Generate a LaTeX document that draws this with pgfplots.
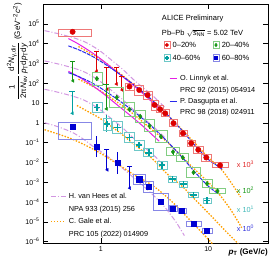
\documentclass[border=0pt]{standalone}
\usepackage{amsmath}
\usepackage{fontspec}
\setmainfont{Liberation Sans}
\newfontfamily\monof{Liberation Mono}
\usepackage{pgfplots}
\usepackage{pgfplotstable}
\pgfplotsset{compat=1.18}

\definecolor{redm}{RGB}{220,0,0}
\definecolor{redbox}{RGB}{238,120,120}
\definecolor{greenm}{RGB}{20,150,20}
\definecolor{greenbox}{RGB}{130,205,130}
\definecolor{tealm}{RGB}{0,160,160}
\definecolor{tealbox}{RGB}{110,200,200}
\definecolor{bluem}{RGB}{0,0,210}
\definecolor{bluebox}{RGB}{135,135,230}
\definecolor{linnyk}{RGB}{230,30,230}
\definecolor{dasgupta}{RGB}{40,40,235}
\definecolor{vanhees}{RGB}{210,150,225}
\definecolor{gale}{RGB}{255,160,0}

\newcommand\ft{\fontsize{7.3}{8.5}\selectfont}
\def\logticklabel{\pgfmathparse{round(\tick)}\pgfmathtruncatemacro\ex{\pgfmathresult}\ifnum\ex=0 1\else\ifnum\ex=1 10\else 10\textsuperscript{\ifnum\ex<0 −\number-\ex\else\ex\fi}\fi\fi}

\pgfdeclareplotmark{sysbox}{\pgfpathrectanglecorners{\pgfpoint{-\bw pt}{-\bh pt}}{\pgfpoint{\bw pt}{\bh pt}}\pgfusepathqstroke}

\pgfplotsset{
 sysb/.style={only marks, mark=sysbox, line width=0.7pt, forget plot,
   visualization depends on={\thisrow{w}\as\bw},
   visualization depends on={\thisrow{h}\as\bh}},
 pts/.style={only marks, forget plot, error bars/y dir=both, error bars/y explicit,
   error bars/error mark=none, error bars/error bar style={line width=0.8pt}},
 ul/.style={only marks, mark=-, mark size=2.6pt, line width=0.8pt, forget plot,
   error bars/y dir=minus, error bars/y explicit, error bars/error mark=triangle*,
   error bars/error bar style={line width=0.8pt},
   error bars/error mark options={rotate=180, mark size=1.7pt, line width=0.4pt}},
 th/.style={no markers, smooth, line width=1pt, forget plot},
}

% ---------------- data (values as displayed, already scaled) -------------
\pgfplotstableread{
x y ep em
0.547 3.9e4 6e3 5e3
1.85 67 10 10
2.28 45 8 8
2.73 25 5 5
3.17 7.9 1.5 1.5
3.57 4.8 0.8 0.8
3.98 3.0 0.5 0.5
4.75 0.94 0.15 0.15
5.82 0.295 0.05 0.05
6.94 0.092 0.015 0.015
8.08 0.043 0.008 0.008
9.6 0.0175 0.004 0.004
12.9 0.0071 0.0015 0.0015
}\redpts
\pgfplotstableread{
x y w h
0.58 3.5e4 16.5 3.5
1.85 67 4.5 3.5
2.28 45 4.5 5
2.73 25 4.5 4
3.17 7.9 3.5 5
3.57 4.8 3.5 3.5
3.98 3.0 4 3.5
4.75 0.94 4 3.5
5.82 0.295 4 3
6.94 0.092 4 3.3
8.08 0.043 5 3.3
9.6 0.0175 5 3.3
12.9 0.0071 8 2.5
}\redsys
\pgfplotstableread{
x y em
0.908 4200 3800
1.14 610 560
1.39 610 520
1.57 215 170
}\redul

\pgfplotstableread{
x y ep em
0.92 170 40 35
1.41 19 6 5
1.85 4.8 1 1
2.33 2.1 0.5 0.5
2.85 0.7 0.2 0.2
3.63 0.2 0.05 0.05
4.7 0.034 0.01 0.01
5.8 0.0175 0.004 0.004
7.3 0.0031 0.0008 0.0008
9.75 8.5e-4 2e-4 2e-4
12.2 3.6e-4 1e-4 1e-4
}\greenpts
\pgfplotstableread{
x y w h
0.92 170 5 6.7
1.41 19 7 10
1.85 4.8 5 6.7
2.33 2.1 5 6
2.85 0.7 5 6
3.63 0.2 6 6
4.7 0.034 6.7 4
5.8 0.0175 6 4
7.3 0.0031 6.7 5
9.75 8.5e-4 5 4
12.2 3.6e-4 8 2.5
}\greensys
\pgfplotstableread{
x y em
0.547 1300 1170
1.12 88 83
}\greenul

\pgfplotstableread{
x y ep em
0.92 5.9 1.5 1.2
1.14 0.84 1.5 0.5
1.43 0.57 0.15 0.12
1.85 0.18 0.04 0.04
2.28 0.073 0.015 0.015
2.79 0.031 0.007 0.007
3.71 0.0071 0.0015 0.0015
4.66 0.0014 0.0004 0.0004
5.9 7.9e-4 1.5e-4 1.5e-4
7.3 2.2e-4 5e-5 5e-5
9.75 1.2e-4 3e-5 3e-5
}\tealpts
\pgfplotstableread{
x y w h
0.92 5.9 5 5
1.14 0.84 4 6
1.43 0.57 5 6
1.85 0.18 5 5
2.28 0.073 5 5
2.79 0.031 5 4
3.71 0.0071 5 4
4.66 0.0014 4 3.3
5.9 7.9e-4 4 3.3
7.3 2.2e-4 5 2.5
9.75 1.2e-4 4 2.5
}\tealsys
\pgfplotstableread{
x y em
0.54 40 37
}\tealul

\pgfplotstableread{
x y ep em
0.547 0.61 0.1 0.1
0.92 0.063 0.147 0.045
1.43 0.0098 0.022 0.0073
2.28 0.0014 0.0003 0.0003
2.79 5.7e-4 1e-4 1e-4
3.63 1.05e-4 3e-5 3e-5
4.7 4.6e-5 8e-6 8e-6
5.7 3.5e-5 6e-6 6e-6
7.3 8.3e-6 2e-6 2e-6
9.75 3.4e-6 8e-7 8e-7
}\bluepts
\pgfplotstableread{
x y w h
0.58 0.39 16.5 8.3
2.28 0.0014 5.8 5.3
2.79 5.7e-4 5 5.8
3.63 1.05e-4 7.5 8.3
4.7 4.6e-5 4 3
5.7 3.5e-5 4 2.3
7.3 8.3e-6 7.5 2.5
9.75 3.4e-6 5 2.5
}\bluesys
\pgfplotstableread{
x y em
1.14 0.046 0.0418
1.85 0.0061 0.0056
}\blueul

% ---------------- model curves -------------
\pgfplotstableread{
x y
0.3 4.47e4
0.4 3.16e4
0.55 2.0e4
0.7 1.26e4
0.85 7.08e3
1.0 3.98e3
1.3 1.26e3
1.6 501
2.0 158
2.5 56.2
3.0 25.1
3.5 11.2
4.0 5.62
}\vhred
\pgfplotstableread{
x y
0.3 1.32e3
0.4 933
0.55 589
0.7 372
0.85 209
1.0 117
1.3 37.2
1.6 14.8
2.0 4.68
2.5 1.66
3.0 0.741
3.5 0.331
4.0 0.166
}\vhgreen
\pgfplotstableread{
x y
0.3 49
0.4 34.7
0.55 21.9
0.7 13.8
0.85 7.76
1.0 4.37
1.3 1.38
1.6 0.55
2.0 0.174
2.5 0.0617
3.0 0.0275
3.5 0.0123
4.0 6.17e-3
}\vhteal
\pgfplotstableread{
x y
0.3 1.0
0.4 0.631
0.55 0.316
0.7 0.141
0.85 0.0631
1.0 0.0355
1.3 0.0126
1.6 5.01e-3
2.0 1.78e-3
2.5 6.31e-4
3.0 2.51e-4
3.5 1.12e-4
4.0 5.01e-5
5.0 1.0e-5
6.0 2.0e-6
}\vhblue
\pgfplotstableread{
x y
0.5 1.78e4
0.6 1.05e4
0.7 6.3e3
0.85 3.16e3
1.0 1.66e3
1.25 631
1.5 282
2.0 79.4
2.5 28.2
3.0 11.2
3.5 5.25
}\lired
\pgfplotstableread{
x y
0.5 398
0.6 234
0.7 141
0.85 70.8
1.0 37.2
1.25 14.1
1.5 6.31
2.0 1.78
2.5 0.631
3.0 0.251
3.5 0.117
}\ligreen
\pgfplotstableread{
x y
0.5 7.59e3
0.6 5.25e3
0.7 3.63e3
0.85 2.14e3
1.0 1.26e3
1.25 562
1.5 282
2.0 89.1
2.5 33.1
3.0 14.1
4.0 3.16
5.0 0.891
6.0 0.302
7.0 0.112
8.0 0.0501
10 0.0141
12 0.00708
13.5 0.00447
}\dared
\pgfplotstableread{
x y
0.5 339
0.6 234
0.7 162
0.85 95.5
1.0 56.2
1.25 25.1
1.5 12.6
2.0 3.98
2.5 1.48
3.0 0.631
4.0 0.141
5.0 0.0398
6.0 0.0135
7.0 5.01e-3
8.0 2.24e-3
10 6.31e-4
12.5 2.51e-4
}\dagreen
\pgfplotstableread{
x y
0.62 7.08e3
0.8 3.16e3
1.0 1.58e3
1.5 316
2.0 89.1
3.0 12.6
4.0 3.16
5.0 0.955
7.0 0.141
10 0.0178
13 5.01e-3
16 1.12e-3
20 1.78e-4
}\gared
\pgfplotstableread{
x y
0.62 158
0.8 79.4
1.0 39.8
1.5 8.91
2.0 2.82
3.0 0.447
4.0 0.126
5.0 0.0398
7.0 6.31e-3
10 1.0e-3
12 3.55e-4
16 4.47e-5
20.5 5.01e-6
}\gagreen
\pgfplotstableread{
x y
0.6 7.41
0.8 3.16
1.0 1.58
1.5 0.316
2.0 0.0891
3.0 0.0158
4.0 3.16e-3
5.0 1.12e-3
5.9 5.37e-4
7.0 2.0e-4
10 2.82e-5
13 6.31e-6
16 2.0e-6
19 7.94e-7
}\gateal
\pgfplotstableread{
x y
0.3 0.447
0.5 0.178
0.7 0.0794
1.0 0.0282
1.5 7.08e-3
2.0 2.51e-3
3.0 7.08e-4
4.43 1.26e-4
7.0 1.0e-5
10.8 8.5e-7
11.5 6e-7
}\gablue

\begin{document}
\begin{tikzpicture}
\path[use as bounding box] (-43pt,-24pt) rectangle (232pt,243pt);
\begin{axis}[
  at={(0pt,0pt)}, anchor=south west,
  scale only axis, width=225pt, height=239pt,
  xmode=log, ymode=log, log basis x=10, log basis y=10,
  xmin=0.29, xmax=36, ymin=8.5e-7, ymax=9.9e5,
  xtick={1,10},
  ytick={1e-6,1e-5,1e-4,1e-3,1e-2,1e-1,1,10,100,1e3,1e4,1e5},
  xticklabel={\logticklabel}, yticklabel={\logticklabel},
  tick label style={font=\fontsize{7}{8}\selectfont},
  major tick length=5pt, minor tick length=2.5pt,
  tick style={black, line width=0.4pt},
  axis line style={line width=0.5pt},
  xlabel={\textbf{\textit{p}\textsubscript{T} (GeV/\textit{c})}},
  xlabel style={at={(axis description cs:1,-0.022)}, anchor=north east, font=\fontsize{8}{9}\selectfont, inner sep=0pt},
  ylabel={$\dfrac{\mbox{1}}{\mbox{2π\textit{N}\textsubscript{ev}}}\dfrac{\mbox{d\textsuperscript{2}\textit{N}\textsubscript{γ,dir}}}{\mbox{\textit{p}\textsubscript{T}d\textit{p}\textsubscript{T}d\textit{y}}}$ (GeV\textsuperscript{−2}\textit{c}\textsuperscript{2})},
  ylabel style={at={(axis description cs:-0.0667,1.004)}, anchor=south east, font=\fontsize{8}{9}\selectfont, inner sep=0pt},
  legend columns=2,
  legend cell align=left,
  legend style={at={(axis description cs:0.535,0.847)}, anchor=north west, draw=none, fill=none,
    font=\fontsize{7.5}{8.5}\selectfont, inner sep=0pt,
    nodes={inner sep=0.5pt, text height=6pt, text depth=1.5pt},
    row sep=4.5pt, column sep=2pt,
    /tikz/column 2/.style={column sep=12pt}},
]
% systematic boxes
\addplot[sysb, color=redbox] table[x=x,y=y] {\redsys};
\addplot[sysb, color=greenbox] table[x=x,y=y] {\greensys};
\addplot[sysb, color=tealbox] table[x=x,y=y] {\tealsys};
\addplot[sysb, color=bluebox] table[x=x,y=y] {\bluesys};
% models
\addplot[th, color=vanhees, dash pattern=on 5pt off 2pt on 1pt off 2pt] table {\vhred};
\addplot[th, color=vanhees, dash pattern=on 5pt off 2pt on 1pt off 2pt] table {\vhgreen};
\addplot[th, color=vanhees, dash pattern=on 5pt off 2pt on 1pt off 2pt] table {\vhteal};
\addplot[th, color=vanhees, dash pattern=on 5pt off 2pt on 1pt off 2pt] table {\vhblue};
\addplot[th, color=gale, dash pattern=on 1.5pt off 1.5pt, line width=1.3pt] table {\gared};
\addplot[th, color=gale, dash pattern=on 1.5pt off 1.5pt, line width=1.3pt] table {\gagreen};
\addplot[th, color=gale, dash pattern=on 1.5pt off 1.5pt, line width=1.3pt] table {\gateal};
\addplot[th, color=gale, dash pattern=on 1.5pt off 1.5pt, line width=1.3pt] table {\gablue};
\addplot[th, color=linnyk] table {\lired};
\addplot[th, color=linnyk] table {\ligreen};
\addplot[th, color=dasgupta, dash pattern=on 4pt off 1pt] table {\dared};
\addplot[th, color=dasgupta, dash pattern=on 4pt off 1pt] table {\dagreen};
% upper limits
\addplot[ul, color=redm] table[x=x,y=y,y error minus=em] {\redul};
\addplot[ul, color=greenm] table[x=x,y=y,y error minus=em] {\greenul};
\addplot[ul, color=tealm] table[x=x,y=y,y error minus=em] {\tealul};
\addplot[ul, color=bluem] table[x=x,y=y,y error minus=em] {\blueul};
% points
\addplot[pts, color=redm, mark=*, mark size=2.7pt] table[x=x,y=y,y error plus=ep,y error minus=em] {\redpts};
\addplot[pts, color=greenm, mark=diamond*, mark size=2.3pt] table[x=x,y=y,y error plus=ep,y error minus=em] {\greenpts};
\addplot[pts, color=tealm, mark=+, mark size=3.2pt, mark options={line width=1.8pt}] table[x=x,y=y,y error plus=ep,y error minus=em] {\tealpts};
\addplot[pts, color=bluem, mark=square*, mark size=2.6pt] table[x=x,y=y,y error plus=ep,y error minus=em] {\bluepts};

% legend for centralities
\addlegendimage{legend image code/.code={\draw[redbox, line width=0.6pt] (0pt,-3.5pt) rectangle (6pt,3.5pt); \fill[redm] (3pt,0pt) circle (1.8pt);}}
\addlegendentry{0–20\%}
\addlegendimage{legend image code/.code={\draw[greenbox, line width=0.6pt] (0pt,-3.5pt) rectangle (6pt,3.5pt); \fill[greenm] (3pt,1.8pt)--(4.3pt,0pt)--(3pt,-1.8pt)--(1.7pt,0pt)--cycle;}}
\addlegendentry{20–40\%}
\addlegendimage{legend image code/.code={\draw[tealbox, line width=0.6pt] (0pt,-3.5pt) rectangle (6pt,3.5pt); \draw[tealm, line width=1.3pt] (0.8pt,0pt)--(5.2pt,0pt) (3pt,-2.2pt)--(3pt,2.2pt);}}
\addlegendentry{40–60\%}
\addlegendimage{legend image code/.code={\draw[bluebox, line width=0.6pt] (0pt,-3.5pt) rectangle (6pt,3.5pt); \fill[bluem] (1.4pt,-1.6pt) rectangle (4.6pt,1.6pt);}}
\addlegendentry{60–80\%}

\node[anchor=west, font=\fontsize{7.5}{8.5}\selectfont, inner sep=0pt] at (axis description cs:0.528,0.94) {ALICE Preliminary};
\node[anchor=west, font=\fontsize{7.5}{8.5}\selectfont, inner sep=0pt] at (axis description cs:0.528,0.878) {Pb–Pb $\sqrt{\mbox{\textit{s}\textsubscript{NN}}}$ = 5.02 TeV};
\node[anchor=west, font=\ft, text=redm!85, inner sep=0pt] at (axis description cs:0.861,0.331) {x 10\textsuperscript{3}};
\node[anchor=west, font=\ft, text=greenm, inner sep=0pt] at (axis description cs:0.861,0.222) {x 10\textsuperscript{2}};
\node[anchor=west, font=\ft, text=tealm!75, inner sep=0pt] at (axis description cs:0.861,0.142) {x 10\textsuperscript{1}};
\node[anchor=west, font=\ft, text=bluem!80, inner sep=0pt] at (axis description cs:0.861,0.063) {x 10\textsuperscript{0}};
\node[anchor=west, font=\monof\fontsize{5.5}{6}\selectfont, text=gray, inner sep=0pt] at (axis description cs:-0.191,-0.079) {ALI-PREL-514408};
\end{axis}

% legend: Linnyk, Dasgupta
\begin{axis}[at={(0pt,0pt)}, anchor=south west, scale only axis, width=225pt, height=239pt,
  hide axis, xmin=0, xmax=1, ymin=0, ymax=1,
  legend cell align=left,
  legend style={at={(axis description cs:0.56,0.707)}, anchor=north west, draw=none, fill=none,
    font=\ft, inner sep=0pt, nodes={inner sep=0.5pt, text height=6pt, text depth=1.5pt},
    row sep=2.8pt, column sep=2pt}]
\addlegendimage{color=linnyk, line width=1pt, legend image code/.code={\draw (0pt,0pt) -- (7.5pt,0pt);}}
\addlegendentry{O. Linnyk et al.}
\addlegendimage{empty legend}
\addlegendentry{PRC 92 (2015) 054914}
\addlegendimage{color=dasgupta, line width=1pt, legend image code/.code={\draw (0pt,0pt) -- (7.5pt,0pt);}}
\addlegendentry{P. Dasgupta et al.}
\addlegendimage{empty legend}
\addlegendentry{PRC 98 (2018) 024911}
\end{axis}

% legend: van Hees, Gale
\begin{axis}[at={(0pt,0pt)}, anchor=south west, scale only axis, width=225pt, height=239pt,
  hide axis, xmin=0, xmax=1, ymin=0, ymax=1,
  legend cell align=left,
  legend style={at={(axis description cs:0.031,0.213)}, anchor=north west, draw=none, fill=none,
    font=\ft, inner sep=0pt, nodes={inner sep=0.5pt, text height=6pt, text depth=1.5pt},
    row sep=4pt, column sep=2pt}]
\addlegendimage{color=vanhees, line width=1pt, dash pattern=on 5pt off 2pt on 1pt off 2pt, legend image code/.code={\draw (0pt,0pt) -- (15pt,0pt);}}
\addlegendentry{H. van Hees et al.}
\addlegendimage{empty legend}
\addlegendentry{NPA 933 (2015) 256}
\addlegendimage{color=gale, line width=1.3pt, dash pattern=on 1.5pt off 1.5pt, legend image code/.code={\draw (0pt,0pt) -- (15pt,0pt);}}
\addlegendentry{C. Gale et al.}
\addlegendimage{empty legend}
\addlegendentry{PRC 105 (2022) 014909}
\end{axis}
\end{tikzpicture}
\end{document}
